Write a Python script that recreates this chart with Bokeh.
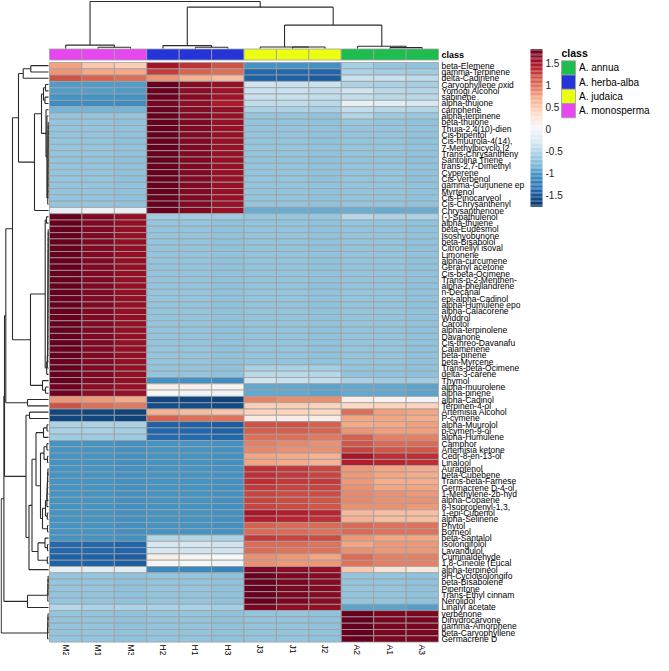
import math
import numpy as np
from bokeh.plotting import figure
from bokeh.models import Range1d, ColumnDataSource, LinearColorMapper
from bokeh.core.properties import value
from bokeh.embed import file_html
from bokeh.resources import INLINE

FONT = value("Liberation Sans")

# ---------------- data ----------------
samples = ["M2", "M1", "M3", "H2", "H1", "H3", "J3", "J1", "J2", "A2", "A1", "A3"]
sample_class = ["A. monosperma", "A. monosperma", "A. monosperma",
                "A. herba-alba", "A. herba-alba", "A. herba-alba",
                "A. judaica", "A. judaica", "A. judaica",
                "A. annua", "A. annua", "A. annua"]
class_names = ["A. annua", "A. herba-alba", "A. judaica", "A. monosperma"]
class_colors = ["#1DBE4F", "#2434D8", "#EAFF12", "#E647EE"]

compounds = [
    "beta-Elemene", "gamma-Terpinene", "delta-Cadinene", "Caryophyllene oxid", "Yomogi Alcohol",
    "sabinene", "alpha-thujone", "camphene", "alpha-terpinene", "beta-thujone",
    "Thuja-2,4(10)-dien", "Cis-piperitol", "Cis-muurola-4(14),", "7-Methylbicyclo [2", "Trans-Chrysantheny",
    "Santolina Triene", "trans-2,7-Dimethyl", "Cyperene", "Cis-Verbenol", "gamma-Gurjunene ep",
    "Myrtenol", "Cis-Pinocarveol", "Cis-Chrysanthenyl", "Chrysanthenone", "(-)-Spathulenol",
    "alpha-thujene", "beta-Eudesmol", "Isoshyobunone", "beta-Bisabolol", "Citronellyl isoval",
    "Limonene", "alpha-curcumene", "Geranyl acetone", "Cis-beta-Ocimene", "Trans-p-2-Menthen-",
    "alpha-phellandrene", "n-Decanal", "epi-alpha-Cadinol", "alpha-Humulene epo", "alpha-Calacorene",
    "Widdrol", "Carotol", "alpha-terpinolene", "Davanone", "Cis-threo-Davanafu",
    "Calamenene", "beta-pinene", "beta-Myrcene", "Trans-beta-Ocimene", "delta-3-carene",
    "Thymol", "alpha-muurolene", "alpha-pinene", "alpha-Cadinol", "Terpinen-4-ol",
    "Artemisia Alcohol", "P-cymene", "alpha-Muurolol", "p-cymen-9-ol", "alpha-Humulene",
    "Camphor", "Artemisia ketone", "Cedr-8-en-13-ol", "Linalool", "Auraptenol",
    "beta-Cubebene", "Trans-beta-Farnese", "Germacrene D-4-ol", "1-Methylene-2b-hyd", "alpha-Copaene",
    "8-Isopropenyl-1,3,", "1-epi-Cubenol", "alpha-Selinene", "Phytol", "Borneol",
    "beta-Santalol", "Isolongifolol", "Lavandulol", "Cuminaldehyde", "1,8-Cineole (Eucal",
    "alpha-terpineol", "9H-Cycloisolongifo", "beta-Bisabolene", "Piperitone", "Trans-Ethyl cinnam",
    "Nerolidol", "Linalyl acetate", "verbenone", "Dihydrocarvone", "gamma-Amorphene",
    "beta-Caryophyllene", "Germacrene D",
]

# row z-scores, columns in the order of `samples`
zscores = [
    [0.73, 0.50, 0.45, 1.50, 1.30, 1.15, -1.05, -1.05, -1.08, -0.60, -0.70, -0.72],
    [0.80, 0.70, 0.70, 1.25, 1.05, 1.00, -1.40, -1.40, -1.42, -0.55, -0.60, -0.62],
    [1.15, 1.05, 1.00, 0.80, 0.65, 0.55, -1.45, -1.45, -1.48, -0.40, -0.40, -0.45],
    [-1.00, -1.00, -1.00, 1.80, 1.65, 1.55, -0.35, -0.40, -0.40, -0.55, -0.58, -0.60],
    [-0.98, -0.98, -1.00, 1.80, 1.62, 1.52, -0.40, -0.40, -0.42, -0.35, -0.48, -0.52],
    [-1.05, -1.05, -1.05, 1.78, 1.65, 1.52, -0.40, -0.40, -0.42, -0.42, -0.48, -0.48],
    [-1.10, -1.10, -1.10, 1.72, 1.60, 1.45, -0.45, -0.45, -0.48, -0.12, -0.20, -0.28],
    [-0.82, -0.82, -0.82, 1.78, 1.65, 1.58, -0.55, -0.55, -0.58, -0.42, -0.50, -0.52],
    [-0.70, -0.70, -0.70, 1.80, 1.66, 1.56, -0.70, -0.70, -0.71, -0.52, -0.65, -0.66],
    [-0.70, -0.70, -0.71, 1.80, 1.66, 1.56, -0.70, -0.70, -0.71, -0.68, -0.70, -0.71],
    [-0.70, -0.70, -0.71, 1.80, 1.66, 1.56, -0.70, -0.70, -0.71, -0.70, -0.70, -0.71],
    [-0.70, -0.70, -0.71, 1.80, 1.66, 1.56, -0.70, -0.70, -0.71, -0.70, -0.70, -0.71],
    [-0.70, -0.70, -0.71, 1.80, 1.66, 1.56, -0.70, -0.70, -0.71, -0.70, -0.70, -0.71],
    [-0.70, -0.70, -0.71, 1.80, 1.66, 1.56, -0.70, -0.70, -0.71, -0.70, -0.70, -0.71],
    [-0.70, -0.70, -0.71, 1.80, 1.66, 1.56, -0.70, -0.70, -0.71, -0.70, -0.70, -0.71],
    [-0.70, -0.70, -0.71, 1.80, 1.66, 1.56, -0.70, -0.70, -0.71, -0.70, -0.70, -0.71],
    [-0.70, -0.70, -0.71, 1.80, 1.66, 1.56, -0.70, -0.70, -0.71, -0.70, -0.70, -0.71],
    [-0.70, -0.70, -0.71, 1.80, 1.66, 1.56, -0.70, -0.70, -0.71, -0.70, -0.70, -0.71],
    [-0.70, -0.70, -0.71, 1.80, 1.66, 1.56, -0.70, -0.70, -0.71, -0.70, -0.70, -0.71],
    [-0.70, -0.70, -0.71, 1.80, 1.66, 1.56, -0.70, -0.70, -0.71, -0.70, -0.70, -0.71],
    [-0.70, -0.70, -0.71, 1.80, 1.66, 1.56, -0.70, -0.70, -0.71, -0.70, -0.70, -0.71],
    [-0.70, -0.70, -0.71, 1.80, 1.66, 1.56, -0.70, -0.70, -0.71, -0.70, -0.70, -0.71],
    [-0.70, -0.70, -0.71, 1.80, 1.66, 1.56, -0.70, -0.70, -0.71, -0.70, -0.70, -0.71],
    [-0.15, -0.10, -0.15, 1.80, 1.66, 1.56, -0.88, -0.88, -0.90, -0.88, -0.90, -0.88],
    [1.80, 1.66, 1.58, -0.62, -0.62, -0.64, -0.68, -0.68, -0.68, -0.50, -0.56, -0.56],
    [1.80, 1.66, 1.58, -0.70, -0.70, -0.71, -0.70, -0.70, -0.71, -0.70, -0.70, -0.71],
    [1.80, 1.66, 1.58, -0.70, -0.70, -0.71, -0.70, -0.70, -0.71, -0.70, -0.70, -0.71],
    [1.80, 1.66, 1.58, -0.70, -0.70, -0.71, -0.70, -0.70, -0.71, -0.70, -0.70, -0.71],
    [1.80, 1.66, 1.58, -0.70, -0.70, -0.71, -0.70, -0.70, -0.71, -0.70, -0.70, -0.71],
    [1.80, 1.66, 1.58, -0.70, -0.70, -0.71, -0.70, -0.70, -0.71, -0.70, -0.70, -0.71],
    [1.80, 1.66, 1.58, -0.70, -0.70, -0.71, -0.70, -0.70, -0.71, -0.70, -0.70, -0.71],
    [1.80, 1.66, 1.58, -0.70, -0.70, -0.71, -0.70, -0.70, -0.71, -0.70, -0.70, -0.71],
    [1.80, 1.66, 1.58, -0.70, -0.70, -0.71, -0.70, -0.70, -0.71, -0.70, -0.70, -0.71],
    [1.80, 1.66, 1.58, -0.70, -0.70, -0.71, -0.70, -0.70, -0.71, -0.70, -0.70, -0.71],
    [1.80, 1.66, 1.58, -0.70, -0.70, -0.71, -0.70, -0.70, -0.71, -0.70, -0.70, -0.71],
    [1.80, 1.66, 1.58, -0.70, -0.70, -0.71, -0.70, -0.70, -0.71, -0.70, -0.70, -0.71],
    [1.80, 1.66, 1.58, -0.70, -0.70, -0.71, -0.70, -0.70, -0.71, -0.70, -0.70, -0.71],
    [1.80, 1.66, 1.58, -0.70, -0.70, -0.71, -0.70, -0.70, -0.71, -0.70, -0.70, -0.71],
    [1.80, 1.66, 1.58, -0.70, -0.70, -0.71, -0.70, -0.70, -0.71, -0.70, -0.70, -0.71],
    [1.80, 1.66, 1.58, -0.70, -0.70, -0.71, -0.70, -0.70, -0.71, -0.70, -0.70, -0.71],
    [1.80, 1.66, 1.58, -0.70, -0.70, -0.71, -0.70, -0.70, -0.71, -0.70, -0.70, -0.71],
    [1.80, 1.66, 1.58, -0.70, -0.70, -0.71, -0.70, -0.70, -0.71, -0.70, -0.70, -0.71],
    [1.80, 1.66, 1.58, -0.70, -0.70, -0.71, -0.70, -0.70, -0.71, -0.70, -0.70, -0.71],
    [1.80, 1.66, 1.58, -0.70, -0.70, -0.71, -0.70, -0.70, -0.71, -0.70, -0.70, -0.71],
    [1.80, 1.66, 1.58, -0.70, -0.70, -0.71, -0.70, -0.70, -0.71, -0.70, -0.70, -0.71],
    [1.80, 1.66, 1.58, -0.70, -0.70, -0.71, -0.70, -0.70, -0.71, -0.70, -0.70, -0.71],
    [1.80, 1.66, 1.58, -0.70, -0.70, -0.71, -0.70, -0.70, -0.71, -0.70, -0.70, -0.71],
    [1.80, 1.66, 1.58, -0.70, -0.70, -0.71, -0.70, -0.70, -0.71, -0.70, -0.70, -0.71],
    [1.80, 1.66, 1.58, -0.70, -0.70, -0.71, -0.58, -0.58, -0.60, -0.70, -0.70, -0.71],
    [1.80, 1.66, 1.58, -0.70, -0.70, -0.71, -0.48, -0.48, -0.50, -0.72, -0.72, -0.74],
    [1.80, 1.66, 1.58, -1.08, -1.08, -1.10, -0.35, -0.40, -0.42, -0.58, -0.62, -0.62],
    [1.75, 1.62, 1.55, 0.12, 0.10, 0.06, -0.92, -0.92, -0.95, -0.92, -0.92, -0.95],
    [1.75, 1.62, 1.55, 0.00, -0.05, -0.05, -0.92, -0.92, -0.95, -0.92, -0.92, -0.95],
    [0.80, 0.78, 0.70, -1.62, -1.62, -1.65, 0.90, 0.85, 0.85, 0.12, 0.06, -0.05],
    [1.15, 1.00, 0.95, -1.58, -1.58, -1.60, 0.45, 0.45, 0.42, 0.38, 0.42, 0.42],
    [-1.62, -1.62, -1.64, 0.65, 0.58, 0.52, 0.42, 0.42, 0.40, 1.00, 0.75, 0.72],
    [-1.62, -1.62, -1.64, 1.08, 1.00, 0.98, 0.18, 0.12, 0.12, 0.72, 0.72, 0.66],
    [-0.55, -0.55, -0.58, -1.45, -1.45, -1.48, 1.15, 1.15, 1.08, 0.70, 0.70, 0.75],
    [-0.58, -0.58, -0.60, -1.42, -1.42, -1.45, 1.10, 1.10, 1.05, 0.80, 0.75, 0.75],
    [-0.62, -0.62, -0.64, -1.38, -1.38, -1.40, 1.00, 1.00, 0.95, 1.08, 0.92, 0.92],
    [-1.05, -1.05, -1.07, -1.05, -1.05, -1.07, 0.92, 0.88, 0.82, 1.12, 1.02, 1.02],
    [-1.05, -1.05, -1.07, -1.05, -1.05, -1.07, 0.88, 0.82, 0.82, 1.22, 1.12, 1.12],
    [-1.05, -1.05, -1.07, -1.05, -1.05, -1.07, 0.72, 0.68, 0.62, 1.48, 1.32, 1.32],
    [-1.05, -1.05, -1.07, -1.05, -1.05, -1.07, 0.72, 0.68, 0.62, 1.42, 1.38, 1.32],
    [-1.05, -1.05, -1.07, -1.05, -1.05, -1.07, 1.32, 1.28, 1.22, 0.78, 0.72, 0.66],
    [-1.05, -1.05, -1.07, -1.05, -1.05, -1.07, 1.32, 1.28, 1.22, 0.78, 0.72, 0.66],
    [-1.05, -1.05, -1.07, -1.05, -1.05, -1.07, 1.32, 1.28, 1.28, 0.78, 0.66, 0.66],
    [-1.05, -1.05, -1.07, -1.05, -1.05, -1.07, 1.28, 1.22, 1.22, 0.82, 0.72, 0.72],
    [-1.05, -1.05, -1.07, -1.05, -1.05, -1.07, 1.22, 1.18, 1.18, 0.88, 0.82, 0.78],
    [-1.05, -1.05, -1.07, -1.05, -1.05, -1.07, 1.22, 1.18, 1.12, 0.88, 0.82, 0.82],
    [-1.05, -1.05, -1.07, -1.05, -1.05, -1.07, 1.22, 1.18, 1.12, 0.82, 0.82, 0.78],
    [-1.05, -1.05, -1.07, -1.05, -1.05, -1.07, 1.48, 1.42, 1.38, 0.60, 0.55, 0.55],
    [-1.05, -1.05, -1.07, -1.05, -1.05, -1.07, 1.42, 1.38, 1.32, 0.62, 0.55, 0.55],
    [-1.05, -1.05, -1.07, -1.05, -1.05, -1.07, 1.08, 1.02, 1.02, 1.02, 0.98, 0.98],
    [-1.05, -1.05, -1.07, -1.05, -1.05, -1.07, 1.02, 1.02, 0.98, 1.02, 0.98, 0.98],
    [-1.05, -1.05, -1.07, -0.52, -0.52, -0.55, 1.28, 1.22, 1.18, 0.78, 0.72, 0.72],
    [-1.40, -1.40, -1.42, -0.30, -0.30, -0.35, 1.02, 1.02, 0.98, 0.72, 0.78, 0.78],
    [-1.40, -1.40, -1.42, -0.30, -0.35, -0.35, 1.02, 0.98, 0.98, 0.82, 0.78, 0.78],
    [-1.45, -1.45, -1.47, 0.12, 0.06, 0.00, 0.82, 0.78, 0.72, 1.02, 0.92, 0.92],
    [-1.45, -1.45, -1.47, 0.02, 0.00, -0.06, 0.82, 0.78, 0.78, 0.98, 0.92, 0.92],
    [-0.15, -0.20, -0.20, -1.15, -1.15, -1.18, 1.68, 1.62, 1.58, 0.50, 0.28, 0.22],
    [-0.70, -0.70, -0.71, -0.70, -0.70, -0.71, 1.80, 1.70, 1.65, -0.70, -0.70, -0.71],
    [-0.70, -0.70, -0.71, -0.70, -0.70, -0.71, 1.80, 1.70, 1.65, -0.70, -0.70, -0.71],
    [-0.70, -0.70, -0.71, -0.70, -0.70, -0.71, 1.80, 1.70, 1.65, -0.70, -0.70, -0.71],
    [-0.70, -0.70, -0.71, -0.70, -0.70, -0.71, 1.80, 1.70, 1.65, -0.70, -0.70, -0.71],
    [-0.70, -0.70, -0.71, -0.70, -0.70, -0.71, 1.80, 1.70, 1.65, -0.70, -0.70, -0.71],
    [-0.50, -0.55, -0.55, -0.58, -0.58, -0.60, 1.70, 1.60, 1.58, -0.95, -0.95, -0.98],
    [-0.70, -0.70, -0.71, -0.70, -0.70, -0.71, -0.70, -0.70, -0.71, 1.80, 1.70, 1.70],
    [-0.70, -0.70, -0.71, -0.70, -0.70, -0.71, -0.70, -0.70, -0.71, 1.80, 1.70, 1.70],
    [-0.70, -0.70, -0.71, -0.70, -0.70, -0.71, -0.70, -0.70, -0.71, 1.80, 1.70, 1.70],
    [-0.70, -0.70, -0.71, -0.70, -0.70, -0.71, -0.70, -0.70, -0.71, 1.80, 1.70, 1.70],
    [-0.70, -0.70, -0.71, -0.70, -0.70, -0.71, -0.70, -0.70, -0.71, 1.80, 1.70, 1.70],
]

color_low, color_high = -1.78, 1.80
legend_ticks = [1.5, 1.0, 0.5, 0.0, -0.5, -1.0, -1.5]
legend_tick_labels = ["1.5", "1", "0.5", "0", "-0.5", "-1", "-1.5"]

# column dendrogram: [height, left, right], leaves = column indices
col_tree = [55.0,
            [4.0, 0, [1.4, 1, 2]],
            [48.4,
             [3.4, 3, [1.4, 4, 5]],
             [27.4,
              [1.7, 6, [1.7, 7, 8]],
              [2.7, 9, [1.0, 10, 11]]]]]


# row dendrogram: leaves = 1-based row numbers
def ladder(leaves, heights):
    node = leaves[0]
    for leaf, h in zip(leaves[1:], heights):
        node = [h, node, leaf]
    return node


h_ladder_rows = ladder(list(range(10, 24)),
                       [0.3, 0.35, 0.4, 0.4, 0.45, 0.5, 0.5, 0.55, 0.6, 0.6, 0.65, 0.7, 0.75])
m_ladder_rows = ladder(list(range(27, 51)),
                       [0.3, 0.3, 0.35, 0.35, 0.4, 0.4, 0.45, 0.45, 0.5, 0.5, 0.55, 0.55,
                        0.6, 0.6, 0.65, 0.65, 0.7, 0.7, 0.75, 0.8, 0.85, 1.2, 1.8])
j_ladder_rows = ladder([82, 83, 84, 85, 86], [0.4, 0.5, 0.6, 0.7])
a_ladder_rows = ladder([88, 89, 90, 91, 92], [0.5, 0.6, 0.7, 0.9])

ab_block = [30.0,
            [25.3, [17.7, 1, 2], 3],
            [14.0,
             [7.0,
              [5.0, [3.0, 4, 5], [3.5, 6, 7]],
              [2.5, 8, [1.6, 9, h_ladder_rows]]],
             24]]
m_block = [18.0, [3.3, [2.0, 25, 26], m_ladder_rows], [6.0, 51, [3.0, 52, 53]]]
ja_core = [16.5,
           [12.5,
            [5.0, [1.5, 58, 59], 60],
            [8.0,
             [4.5, [1.6, 61, 62], [1.0, 63, 64]],
             [6.0,
              [3.0, ladder([65, 66, 67, 68, 69, 70, 71], [0.6, 0.8, 1.0, 1.2, 1.4, 1.6]), [1.2, 72, 73]],
              [1.0, 74, 75]]]],
           [10.5, [3.5, 76, [1.0, 77, 78]], [1.2, 79, 80]]]
ja_block = [22.5, [19.0, 56, 57], [19.5, ja_core, 81]]
row_tree = [53.3,
            [44.6,
             [44.0,
              [42.7, [36.0, ab_block, m_block], [21.0, 54, 55]],
              ja_block],
             [21.0, j_ladder_rows, 87]],
            a_ladder_rows]

# ---------------- layout (screen pixels) ----------------
W, H = 653, 655
PAGE_MARGIN = 8
HX0, HY0 = 57.0, 70.0          # heatmap top-left on screen
CW, RH = 32.42, 6.3            # cell size in px


def sx(px):
    return (px - HX0) / CW


def sy(py):
    return (py - HY0) / RH


n_rows, n_cols = len(compounds), len(samples)

p = figure(width=W, height=H, output_backend="svg", toolbar_location=None,
           x_range=Range1d(sx(PAGE_MARGIN), sx(PAGE_MARGIN + W)),
           y_range=Range1d(sy(PAGE_MARGIN + H), sy(PAGE_MARGIN)),
           x_axis_location=None, y_axis_location=None, min_border=0,
           outline_line_color=None, background_fill_color="white", border_fill_color="white")
p.xgrid.grid_line_color = None
p.ygrid.grid_line_color = None

rdbu = ["#053061", "#2166ac", "#4393c3", "#92c5de", "#d1e5f0", "#f7f7f7",
        "#fddbc7", "#f4a582", "#d6604d", "#b2182b", "#67001f"]


def hex2rgb(h):
    return tuple(int(h[i:i + 2], 16) for i in (1, 3, 5))


anchors = np.array([hex2rgb(c) for c in rdbu], dtype=float)
N = 200
pos = np.linspace(0, len(rdbu) - 1, N)
palette = []
for t in pos:
    i = min(int(t), len(rdbu) - 2)
    f = t - i
    c = anchors[i] * (1 - f) + anchors[i + 1] * f
    palette.append("#%02x%02x%02x" % tuple(int(round(v)) for v in c))
mapper = LinearColorMapper(palette=palette, low=color_low, high=color_high)

# heatmap cells
cx, cy, cz = [], [], []
for r, row in enumerate(zscores):
    for c, z in enumerate(row):
        cx.append(c + 0.5)
        cy.append(r + 0.5)
        cz.append(z)
src = ColumnDataSource(dict(x=cx, y=cy, z=cz))
p.rect(x="x", y="y", width=1, height=1, source=src,
       fill_color={"field": "z", "transform": mapper},
       line_color="#a0a0a0", line_width=0.8)

# class annotation bar
bar_top, bar_bot = sy(56.5), sy(67.5)
cls_color = {n: c for n, c in zip(class_names, class_colors)}
p.rect(x=[c + 0.5 for c in range(n_cols)], y=(bar_top + bar_bot) / 2, width=1,
       height=bar_bot - bar_top, fill_color=[cls_color[s] for s in sample_class],
       line_color="#a0a0a0", line_width=0.8)
p.text(x=[sx(449)], y=[(bar_top + bar_bot) / 2], text=["class"], text_font=FONT,
       text_font_size="9px", text_font_style="bold", text_baseline="middle", text_color="black")


# dendrograms
def tree_segments(node, leaf_pos, segs):
    if isinstance(node, int):
        return leaf_pos(node), 0.0
    h, a, b = node
    pa, ha = tree_segments(a, leaf_pos, segs)
    pb, hb = tree_segments(b, leaf_pos, segs)
    segs.append((pa, ha, pa, h))
    segs.append((pb, hb, pb, h))
    segs.append((pa, h, pb, h))
    return (pa + pb) / 2.0, h


DCOL = "#2b2b2b"
# column dendrogram (top)
segs = []
tree_segments(col_tree, lambda i: i + 0.5, segs)
col_leaf_y = sy(56.0)
col_scale = (sy(56.0) - sy(9.0)) / col_tree[0]
p.segment(x0=[s[0] for s in segs], y0=[col_leaf_y - s[1] * col_scale for s in segs],
          x1=[s[2] for s in segs], y1=[col_leaf_y - s[3] * col_scale for s in segs],
          line_color=DCOL, line_width=1.1)

# row dendrogram (left): 1 px per height unit, root clamped inside the canvas
segs = []
tree_segments(row_tree, lambda k: k - 0.5, segs)


def row_hx(h):
    return sx(max(56.0 - h, PAGE_MARGIN + 0.7))


p.segment(x0=[row_hx(s[1]) for s in segs], y0=[s[0] for s in segs],
          x1=[row_hx(s[3]) for s in segs], y1=[s[2] for s in segs],
          line_color=DCOL, line_width=1.1)

# row labels
p.text(x=[sx(449)] * n_rows, y=[r + 0.5 for r in range(n_rows)], text=compounds,
       text_font=FONT, text_font_size="8.5px", text_baseline="middle", text_color="black")

# column labels
p.text(x=[c + 0.5 for c in range(n_cols)], y=[sy(652.0)] * n_cols, text=samples,
       angle=-math.pi / 2, text_align="left", text_baseline="middle",
       text_font=FONT, text_font_size="8.5px", text_color="black")

# color legend
CB_X0, CB_X1, CB_ZERO, CB_PX = 538.0, 550.0, 136.0, 44.0
steps = np.linspace(color_low, color_high, 121)
mids = (steps[:-1] + steps[1:]) / 2
p.quad(left=sx(CB_X0), right=sx(CB_X1),
       top=[sy(CB_ZERO - v * CB_PX) for v in steps[1:]],
       bottom=[sy(CB_ZERO - v * CB_PX) for v in steps[:-1]],
       fill_color=[palette[min(N - 1, int((m - color_low) / (color_high - color_low) * N))] for m in mids],
       line_color=None)
p.text(x=[sx(553)] * len(legend_ticks), y=[sy(CB_ZERO - t * CB_PX) for t in legend_ticks],
       text=legend_tick_labels, text_font=FONT, text_font_size="10px",
       text_baseline="middle", text_color="#222222")

# class legend
LG_X, LG_Y0, LG_SQ = 569.0, 68.3, 14.25
p.text(x=[sx(LG_X)], y=[sy(60.5)], text=["class"], text_font=FONT, text_font_size="10.5px",
       text_font_style="bold", text_baseline="middle", text_color="black")
centers = [sy(LG_Y0 + (i + 0.5) * LG_SQ) for i in range(len(class_names))]
p.rect(x=sx(LG_X + 7), y=centers, width=14.0 / CW, height=LG_SQ / RH,
       fill_color=class_colors, line_color="#a0a0a0", line_width=0.8)
p.text(x=[sx(LG_X + 17.5)] * len(class_names), y=centers, text=class_names,
       text_font=FONT, text_font_size="10px", text_baseline="middle", text_color="black")

open("out.html", "w").write(file_html(p, INLINE))
